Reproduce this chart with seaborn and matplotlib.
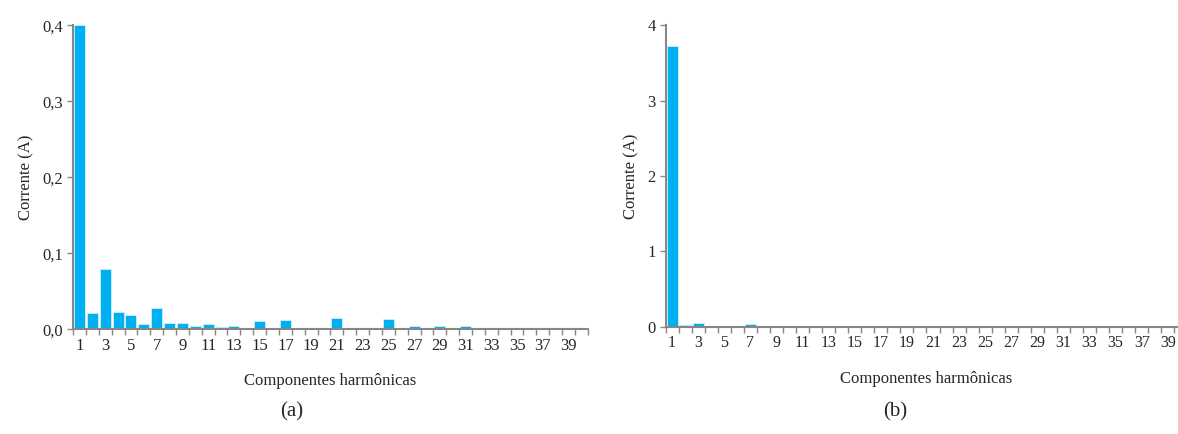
import matplotlib
matplotlib.use("Agg")
import matplotlib.pyplot as plt
import seaborn as sns
import pandas as pd
from matplotlib.ticker import FuncFormatter, FixedLocator

# ------------------------ DATA ------------------------
harmonicas = list(range(1, 41))
corrente_a = [0.400, 0.021, 0.079, 0.023, 0.019, 0.007, 0.028, 0.008, 0.008, 0.004,
              0.007, 0.003, 0.004, 0.0013, 0.011, 0.0, 0.013, 0.0013, 0.0013, 0.0,
              0.015, 0.0, 0.0018, 0.0, 0.0136, 0.0, 0.0048, 0.0, 0.0048, 0.0,
              0.0048, 0.0, 0.0018, 0.0, 0.0018, 0.0, 0.0013, 0.0, 0.0, 0.0]
corrente_b = [3.73, 0.022, 0.053, 0.013, 0.0, 0.0, 0.035, 0.0, 0.0, 0.0,
              0.010, 0.0, 0.0, 0.0, 0.010, 0.0, 0.0, 0.0, 0.0, 0.0,
              0.0, 0.0, 0.0, 0.0, 0.0, 0.0, 0.0, 0.0, 0.0, 0.0,
              0.0, 0.0, 0.0, 0.0, 0.0, 0.0, 0.0, 0.0, 0.0, 0.0]
yticks_a = [0.0, 0.1, 0.2, 0.3, 0.4]
yticks_b = [0, 1, 2, 3, 4]

sns.set_style("white")
plt.rcParams['font.family'] = ['Liberation Serif', 'DejaVu Serif']

cor = '#00B0F0'
cinza = '#878787'

fig = plt.figure(figsize=(11.78, 4.34), dpi=100)
ax_a = fig.add_axes([0.062, 0.241, 0.437, 0.701])
ax_b = fig.add_axes([0.565, 0.247, 0.443, 0.695])


def painel(ax, valores, yticks, fmt, letra, xcap, tam):
    df = pd.DataFrame({'h': [str(h) for h in harmonicas], 'v': valores})
    sns.barplot(data=df, x='h', y='v', color=cor, saturation=1, width=0.85,
                edgecolor='#CFEFFC', linewidth=0.6, ax=ax)
    ax.set_xlim(-0.5, len(harmonicas) - 0.5)
    ax.set_ylim(yticks[0], yticks[-1])
    ax.set_yticks(yticks)
    ax.yaxis.set_major_formatter(FuncFormatter(fmt))
    ax.set_xticks(range(len(harmonicas)))
    ax.set_xticklabels([str(h) if h % 2 == 1 else '' for h in harmonicas])
    ax.xaxis.set_minor_locator(FixedLocator([i + 0.5 for i in range(-1, len(harmonicas))]))
    ax.tick_params(axis='x', which='major', bottom=True, length=0, pad=6, labelsize=tam)
    ax.tick_params(axis='x', which='minor', bottom=True, length=4, width=1, color=cinza, direction='out')
    ax.tick_params(axis='y', left=True, length=4, width=1, color=cinza, direction='out', labelsize=12, pad=3)
    for s in ['top', 'right']:
        ax.spines[s].set_visible(False)
    for s in ['left', 'bottom']:
        ax.spines[s].set_color(cinza)
        ax.spines[s].set_linewidth(1.5)
    ax.set_ylabel('Corrente (A)', fontsize=12, labelpad=6)
    ax.set_xlabel('Componentes harmônicas', fontsize=12, labelpad=14)
    fig.text(xcap, 0.052, letra, fontsize=15, ha='center', va='center')


painel(ax_a, corrente_a, yticks_a, lambda v, p: f"{v:.1f}".replace('.', ','), '(a)', 0.248, 12)
painel(ax_b, corrente_b, yticks_b, lambda v, p: f"{v:.0f}", '(b)', 0.76, 11.5)

plt.savefig('out.png', dpi=100)
plt.close()
